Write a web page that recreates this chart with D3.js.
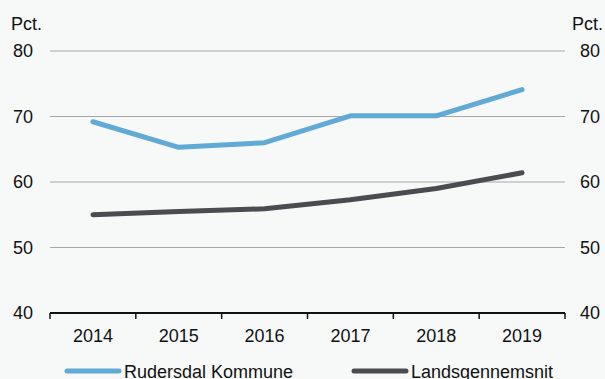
<!DOCTYPE html>
<html>
<head>
<meta charset="utf-8">
<script src="https://cdn.jsdelivr.net/npm/d3@7"></script>
<style>
    body { margin: 0; background: #f7f9f9; }
    svg { display: block; font-family: Arial, "Liberation Sans", sans-serif; }
</style>
</head>
<body>
<div id="chart"></div>
<script>
// Data
const years = ['2014', '2015', '2016', '2017', '2018', '2019'];
const rudersdal = [69.2, 65.3, 66.0, 70.1, 70.1, 74.1];
const landsgennemsnit = [55.0, 55.5, 55.9, 57.3, 59.0, 61.4];
const yTicks = [40, 50, 60, 70, 80];
const seriesNames = ['Rudersdal Kommune', 'Landsgennemsnit'];
const seriesColors = ['#62aad6', '#4b4c51'];

const width = 605;
const height = 379;

const svg = d3.select('#chart').append('svg')
    .attr('width', width)
    .attr('height', height);

svg.append('rect')
    .attr('width', width)
    .attr('height', height)
    .attr('fill', '#f7f9f9');

// Scales
const xScale = d3.scaleBand()
    .domain(years)
    .range([50, 565]);

const yScale = d3.scaleLinear()
    .domain([40, 80])
    .range([313, 51]);

// Gridlines
svg.append('g')
    .selectAll('line')
    .data(yTicks.filter(d => d > 40))
    .join('line')
    .attr('x1', 50)
    .attr('x2', 565)
    .attr('y1', d => yScale(d))
    .attr('y2', d => yScale(d))
    .attr('stroke', '#a6a6a6')
    .attr('stroke-width', 1);

// Left and right value labels
const leftAxis = d3.axisLeft(yScale).tickValues(yTicks).tickSize(0).tickPadding(17);
const rightAxis = d3.axisRight(yScale).tickValues(yTicks).tickSize(0).tickPadding(15);

svg.append('g')
    .attr('transform', 'translate(50,0)')
    .call(leftAxis)
    .call(g => g.select('.domain').remove())
    .selectAll('text')
    .attr('font-size', 18)
    .attr('font-family', 'Arial, "Liberation Sans", sans-serif')
    .attr('fill', '#111');

svg.append('g')
    .attr('transform', 'translate(565,0)')
    .call(rightAxis)
    .call(g => g.select('.domain').remove())
    .selectAll('text')
    .attr('font-size', 18)
    .attr('font-family', 'Arial, "Liberation Sans", sans-serif')
    .attr('fill', '#111');

// Unit labels
svg.append('text')
    .attr('x', 11)
    .attr('y', 30)
    .attr('font-size', 18)
    .attr('fill', '#111')
    .text('Pct.');

svg.append('text')
    .attr('x', 603)
    .attr('y', 30)
    .attr('text-anchor', 'end')
    .attr('font-size', 18)
    .attr('fill', '#111')
    .text('Pct.');

// Bottom axis with ticks at band edges
const xAxisGroup = svg.append('g')
    .attr('transform', `translate(0,${yScale(40)})`);

xAxisGroup.append('line')
    .attr('x1', 50)
    .attr('x2', 565)
    .attr('stroke', '#111')
    .attr('stroke-width', 2);

const edges = years.map(d => xScale(d)).concat([xScale.range()[1]]);
xAxisGroup.selectAll('.tick-mark')
    .data(edges)
    .join('line')
    .attr('class', 'tick-mark')
    .attr('x1', d => d)
    .attr('x2', d => d)
    .attr('y1', 0)
    .attr('y2', 6)
    .attr('stroke', '#111')
    .attr('stroke-width', 1.5);

xAxisGroup.selectAll('.year')
    .data(years)
    .join('text')
    .attr('class', 'year')
    .attr('x', d => xScale(d) + xScale.bandwidth() / 2)
    .attr('y', 29)
    .attr('text-anchor', 'middle')
    .attr('font-size', 18)
    .attr('fill', '#111')
    .text(d => d);

// Lines
const line = d3.line()
    .x((d, i) => xScale(years[i]) + xScale.bandwidth() / 2)
    .y(d => yScale(d));

[rudersdal, landsgennemsnit].forEach((values, i) => {
    svg.append('path')
        .datum(values)
        .attr('fill', 'none')
        .attr('stroke', seriesColors[i])
        .attr('stroke-width', 5)
        .attr('stroke-linecap', 'round')
        .attr('stroke-linejoin', 'round')
        .attr('d', line);
});

// Legend (partly cut off by the bottom edge, as in the reference)
const legendX = [65, 352];
const legend = svg.selectAll('.legend')
    .data(seriesNames)
    .join('g')
    .attr('class', 'legend')
    .attr('transform', (d, i) => `translate(${legendX[i]},371)`);

legend.append('line')
    .attr('x1', 2)
    .attr('x2', 54)
    .attr('stroke', (d, i) => seriesColors[i])
    .attr('stroke-width', 5)
    .attr('stroke-linecap', 'round');

legend.append('text')
    .attr('x', 59)
    .attr('y', 6.5)
    .attr('font-size', 18)
    .attr('fill', '#111')
    .text(d => d);
</script>
</body>
</html>
